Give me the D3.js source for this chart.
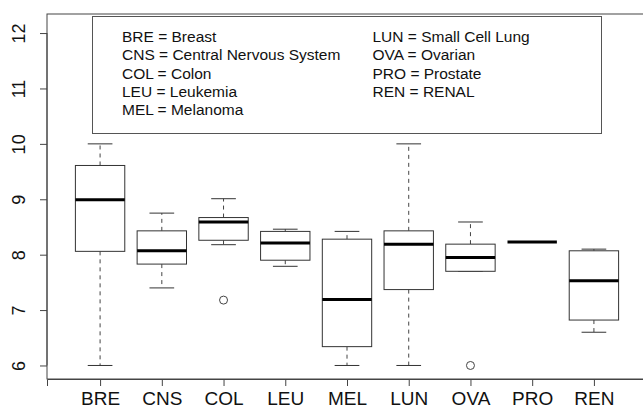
<!DOCTYPE html>
<html>
<head>
<meta charset="utf-8">
<script src="https://cdn.jsdelivr.net/npm/d3@7"></script>
<style>
  body { margin: 0; background: #fff; }
  svg text { font-family: "Liberation Sans", Arial, sans-serif; fill: #111; }
</style>
</head>
<body>
<div id="chart"></div>
<script>
// ====== data ======
const categories  = ["BRE", "CNS", "COL", "LEU", "MEL", "LUN", "OVA", "PRO", "REN"];
const whiskerLow  = [6.00, 7.40, 8.18, 7.79, 6.00, 6.00, 7.70, 8.23, 6.60];
const q1          = [8.06, 7.83, 8.26, 7.90, 6.34, 7.37, 7.70, 8.23, 6.82];
const medians     = [8.99, 8.07, 8.59, 8.21, 7.19, 8.19, 7.95, 8.23, 7.53];
const q3          = [9.61, 8.43, 8.67, 8.42, 8.28, 8.43, 8.19, 8.23, 8.07];
const whiskerHigh = [10.0, 8.75, 9.01, 8.46, 8.42, 10.0, 8.59, 8.23, 8.10];
const outliers    = [{ cat: "COL", v: 7.18 }, { cat: "OVA", v: 6.00 }];
const yTicks      = [6, 7, 8, 9, 10, 11, 12];

const legendLeft  = ["BRE = Breast", "CNS = Central Nervous System", "COL = Colon",
                     "LEU = Leukemia", "MEL = Melanoma"];
const legendRight = ["LUN = Small Cell Lung", "OVA = Ovarian", "PRO = Prostate", "REN = RENAL"];

const width = 643, height = 410;
const plot = { left: 47, right: 647, top: 14, bottom: 379 };

const svg = d3.select("#chart").append("svg")
  .attr("width", width)
  .attr("height", height);

// R style: index positions 1..n, range padded by 4%
const x = d3.scaleLinear().domain([0.14, 9.86]).range([plot.left, plot.right]);
const y = d3.scaleLinear().domain([5.756, 12.344]).range([plot.bottom, plot.top]);

const boxW = x(1.8) - x(1);      // boxwex 0.8
const capW = boxW / 2;           // staplewex 0.5

const stats = categories.map((c, i) => ({
  cat: c, pos: i + 1,
  lo: whiskerLow[i], q1: q1[i], med: medians[i], q3: q3[i], hi: whiskerHigh[i]
}));

// frame
svg.append("rect")
  .attr("x", plot.left).attr("y", plot.top)
  .attr("width", plot.right - plot.left).attr("height", plot.bottom - plot.top)
  .attr("fill", "none").attr("stroke", "#444").attr("stroke-width", 1);

// axes
const yAxis = svg.append("g")
  .attr("transform", `translate(${plot.left},0)`)
  .call(d3.axisLeft(y).tickValues(yTicks).tickSize(7).tickFormat(d3.format("d")));
yAxis.select(".domain")
  .attr("d", `M0,${y(6)}V${y(12)}`);
yAxis.selectAll(".tick line").attr("stroke", "#444");
yAxis.selectAll(".tick text")
  .attr("x", null).attr("dy", null)
  .attr("transform", "translate(-22,0) rotate(-90)")
  .attr("text-anchor", "middle")
  .style("font-size", "18px")
  .style("font-family", "Liberation Sans, Arial, sans-serif");

const xAxis = svg.append("g")
  .attr("transform", `translate(0,${plot.bottom})`)
  .call(d3.axisBottom(x).tickValues(d3.range(1, categories.length + 1)).tickSize(7)
    .tickFormat(d => categories[d - 1]));
xAxis.selectAll(".tick line").attr("stroke", "#444");
xAxis.selectAll(".tick text")
  .attr("y", 26).attr("dy", null)
  .style("font-size", "19px")
  .style("font-family", "Liberation Sans, Arial, sans-serif");
svg.selectAll(".domain").attr("stroke", "#444");

// boxes
const g = svg.append("g");
const box = g.selectAll("g.box").data(stats).join("g").attr("class", "box");

// whiskers (dashed)
box.append("line")
  .attr("x1", d => x(d.pos)).attr("x2", d => x(d.pos))
  .attr("y1", d => y(d.q3)).attr("y2", d => y(d.hi))
  .attr("stroke", "#444").attr("stroke-dasharray", "4,4");
box.append("line")
  .attr("x1", d => x(d.pos)).attr("x2", d => x(d.pos))
  .attr("y1", d => y(d.q1)).attr("y2", d => y(d.lo))
  .attr("stroke", "#444").attr("stroke-dasharray", "4,4");

// staples
box.append("line")
  .attr("x1", d => x(d.pos) - capW / 2).attr("x2", d => x(d.pos) + capW / 2)
  .attr("y1", d => y(d.hi)).attr("y2", d => y(d.hi))
  .attr("stroke", "#333");
box.append("line")
  .attr("x1", d => x(d.pos) - capW / 2).attr("x2", d => x(d.pos) + capW / 2)
  .attr("y1", d => y(d.lo)).attr("y2", d => y(d.lo))
  .attr("stroke", "#333");

// box body
box.append("rect")
  .attr("x", d => x(d.pos) - boxW / 2)
  .attr("y", d => y(d.q3))
  .attr("width", boxW)
  .attr("height", d => y(d.q1) - y(d.q3))
  .attr("fill", "#fff").attr("stroke", "#333");

// median
box.append("line")
  .attr("x1", d => x(d.pos) - boxW / 2).attr("x2", d => x(d.pos) + boxW / 2)
  .attr("y1", d => y(d.med)).attr("y2", d => y(d.med))
  .attr("stroke", "#000").attr("stroke-width", 3);

// outliers
g.selectAll("circle.out").data(outliers).join("circle")
  .attr("class", "out")
  .attr("cx", d => x(categories.indexOf(d.cat) + 1))
  .attr("cy", d => y(d.v))
  .attr("r", 4)
  .attr("fill", "none").attr("stroke", "#444");

// legend
const leg = svg.append("g");
leg.append("rect")
  .attr("x", 92.5).attr("y", 16.5).attr("width", 509).attr("height", 117)
  .attr("fill", "#fff").attr("stroke", "#555");
leg.selectAll("text.l").data(legendLeft).join("text")
  .attr("class", "l")
  .attr("x", 122).attr("y", (d, i) => 42 + i * 18.3)
  .style("font-size", "15.5px")
  .text(d => d);
leg.selectAll("text.r").data(legendRight).join("text")
  .attr("class", "r")
  .attr("x", 372.5).attr("y", (d, i) => 42 + i * 18.3)
  .style("font-size", "15.5px")
  .text(d => d);
</script>
</body>
</html>
